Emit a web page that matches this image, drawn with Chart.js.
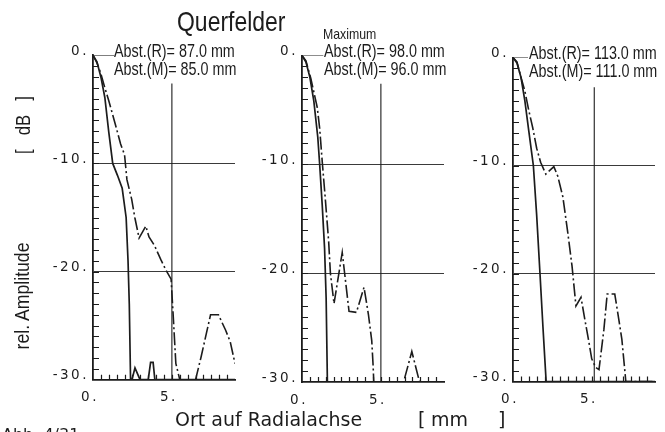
<!DOCTYPE html>
<html><head><meta charset="utf-8">
<script src="https://cdn.jsdelivr.net/npm/chart.js@4.4.1/dist/chart.umd.min.js"></script>
<style>
html,body{margin:0;padding:0;background:#fff;}
body{width:665px;height:432px;position:relative;overflow:hidden;}
canvas{position:absolute;top:0;}
.t{position:absolute;white-space:pre;color:#1c1c1c;line-height:1;}
.nar{font-family:"Liberation Sans",Arial,sans-serif;transform:scaleX(0.82);transform-origin:0 0;}
.rnd{font-family:"DejaVu Sans",sans-serif;}
.rot{position:absolute;white-space:pre;color:#1c1c1c;text-align:center;transform:rotate(-90deg) scaleX(0.84);font-family:"Liberation Sans",sans-serif;}
</style></head><body>
<canvas id="c1" width="212" height="432" style="left:33px;width:212px;height:432px"></canvas>
<canvas id="c2" width="212" height="432" style="left:242px;width:212px;height:432px"></canvas>
<canvas id="c3" width="212" height="432" style="left:453px;width:212px;height:432px"></canvas>

<div class="t nar" style="left:177px;top:8px;font-size:28px">Querfelder</div>
<div class="t nar" style="left:323px;top:26px;font-size:15px">Maximum</div>
<div class="t nar" id="a1r" style="left:114px;top:43px;font-size:17.5px"></div>
<div class="t nar" id="a1m" style="left:114px;top:61px;font-size:17.5px"></div>
<div class="t nar" id="a2r" style="left:324px;top:43px;font-size:17.5px"></div>
<div class="t nar" id="a2m" style="left:324px;top:61px;font-size:17.5px"></div>
<div class="t nar" id="a3r" style="left:529px;top:45px;font-size:17.5px"></div>
<div class="t nar" id="a3m" style="left:529px;top:63px;font-size:17.5px"></div>

<div class="rot" style="left:-38px;top:287px;width:120px;height:24px;line-height:24px;font-size:21px">rel. Amplitude</div>
<div class="rot" style="left:-12px;top:114px;width:70px;height:22px;line-height:22px;font-size:20px">[   dB   ]</div>

<div class="t rnd" style="left:175px;top:410px;font-size:19px">Ort auf Radialachse</div>
<div class="t rnd" style="left:418px;top:410px;font-size:19px">[</div>
<div class="t rnd" style="left:431px;top:410px;font-size:19px">mm</div>
<div class="t rnd" style="left:498px;top:410px;font-size:19px">]</div>
<div class="t rnd" style="left:2px;top:427px;font-size:16px">Abb. 4/31</div>

<script>
// ---- data ----
const abstR = ['87.0', '98.0', '113.0'];
const abstM = ['85.0', '96.0', '111.0'];
const xTickLabels = {'0': '0.', '5': '5.'};
const yTickLabels = {'0': '0.', '-10': '-10.', '-20': '-20.', '-30': '-30.'};

const solid1X = [0, 0.25, 0.5, 0.75, 1.0, 1.25, 1.55, 1.85, 2.1, 2.22, 2.3, 2.38, 2.47, 2.66, 2.98, 3.5, 3.65, 3.81, 3.92, 9.0];
const solid1Y = [0, -0.6, -2.0, -3.9, -7.1, -10.0, -11.1, -12.3, -15.0, -19.0, -23.0, -30, -30, -28.9, -30, -30, -28.4, -28.4, -30, -30];
const dash1X = [0, 0.25, 0.5, 0.75, 1.0, 1.4, 1.75, 2.0, 2.15, 2.45, 2.65, 2.92, 3.35, 3.55, 3.9, 4.3, 4.6, 4.95, 5.1, 5.25, 5.5, 6.5, 6.85, 7.45, 7.95, 8.4, 8.7, 9.0];
const dash1Y = [0, -0.7, -1.7, -3.0, -4.2, -6.3, -8.2, -9.2, -11.5, -13.3, -15.0, -16.9, -15.8, -16.8, -17.6, -18.9, -19.8, -20.7, -24.5, -28.5, -30, -30, -27.9, -24.0, -24.0, -25.4, -26.5, -28.5];

const solid2X = [0, 0.25, 0.5, 0.75, 1.0, 1.12, 1.28, 1.43, 1.53, 1.61, 9.0];
const solid2Y = [0, -0.6, -2.0, -4.2, -7.5, -10.0, -13.7, -17.7, -22.3, -30, -30];
const dash2X = [0, 0.25, 0.56, 0.97, 1.12, 1.28, 1.49, 1.69, 1.8, 2.03, 2.55, 2.98, 3.45, 3.93, 4.21, 4.42, 4.5, 4.55, 6.44, 6.96, 7.45, 9.0];
const dash2Y = [0, -0.5, -2.1, -4.8, -6.7, -9.7, -13.4, -17.1, -20.0, -22.8, -18.1, -23.5, -23.6, -21.3, -23.8, -26.2, -28.3, -30, -30, -27.2, -30, -30];

const solid3X = [0, 0.25, 0.5, 0.75, 1.0, 1.29, 1.5, 1.71, 1.9, 2.1, 9.0];
const solid3Y = [0, -0.5, -1.8, -4.0, -6.8, -10.0, -14.6, -20.0, -25.0, -30, -30];
const dash3X = [0, 0.25, 0.5, 0.75, 1.0, 1.25, 1.5, 1.75, 2.08, 2.59, 2.84, 3.16, 3.47, 3.74, 3.99, 4.31, 4.51, 4.78, 4.99, 5.24, 5.45, 5.76, 5.97, 6.45, 6.7, 6.9, 7.1, 7.15, 9.0];
const dash3Y = [0, -0.4, -1.8, -3.1, -4.9, -6.5, -8.4, -9.7, -10.8, -10.1, -11.0, -12.9, -16.2, -19.3, -23.0, -22.2, -23.9, -26.1, -27.9, -28.7, -28.9, -25.2, -21.9, -21.9, -24.2, -26.1, -29.2, -30, -30];

const markerX = [5.0, 5.0, 5.15];
const markerTop = [-2.6, -2.6, -2.75];
const leaderEnd = [1.35, 1.35, 0.95];

// minor tick spacing of the axes (axis units)
const yMinorStep = 1;
const xMinorStep = 0.5;

// ---- layout (page geometry of each panel's plot area) ----
const panelTop = [55.3, 55.5, 57.5];
const panelBottom = [379.7, 382, 381.5];
const Y_AXIS_W = 60, RIGHT_PAD = 8, CANVAS_H = 432;
const INK = '#1c1c1c';

for (let i = 0; i < 3; i++) {
  document.getElementById('a' + (i + 1) + 'r').textContent = 'Abst.(R)= ' + abstR[i] + ' mm';
  document.getElementById('a' + (i + 1) + 'm').textContent = 'Abst.(M)= ' + abstM[i] + ' mm';
}

const zip = (xs, ys) => xs.map((x, k) => ({x: x, y: ys[k]}));

const innerTicks = {
  id: 'innerTicks',
  beforeDraw(chart) { chart.ctx.letterSpacing = '2.5px'; },
  afterDatasetsDraw(chart) {
    const ctx = chart.ctx, a = chart.chartArea;
    const xs = chart.scales.x, ys = chart.scales.y;
    ctx.save();
    ctx.setLineDash([]);
    ctx.strokeStyle = INK; ctx.lineWidth = 1.2;
    ctx.beginPath();
    for (let v = ys.min + yMinorStep; v < ys.max - 1e-9; v += yMinorStep) {
      const py = Math.round(ys.getPixelForValue(v)) + 0.5;
      ctx.moveTo(a.left, py); ctx.lineTo(a.left + 6, py);
    }
    for (let v = xs.min + xMinorStep; v < xs.max - 1e-9; v += xMinorStep) {
      const px = Math.round(xs.getPixelForValue(v)) + 0.5;
      ctx.moveTo(px, a.bottom); ctx.lineTo(px, a.bottom - 5);
    }
    ctx.stroke();
    ctx.restore();
  }
};

const sets = [[solid1X, solid1Y, dash1X, dash1Y], [solid2X, solid2Y, dash2X, dash2Y], [solid3X, solid3Y, dash3X, dash3Y]];
const tickFont = {family: 'DejaVu Sans', size: 13.5};

sets.forEach((s, i) => {
  const top = panelTop[i], bottom = panelBottom[i];
  new Chart(document.getElementById('c' + (i + 1)), {
    type: 'line',
    data: {
      datasets: [
        {data: zip(s[0], s[1]), borderColor: INK, borderWidth: 1.7, pointRadius: 0, tension: 0},
        {data: zip(s[2], s[3]), borderColor: INK, borderWidth: 1.6, borderDash: [13, 3, 2, 3], pointRadius: 0, tension: 0},
        {data: [{x: markerX[i], y: markerTop[i]}, {x: markerX[i], y: -30}], borderColor: INK, borderWidth: 1.1, pointRadius: 0},
        {data: [{x: 0, y: 0}, {x: leaderEnd[i], y: 0}], borderColor: INK, borderWidth: 1.1, pointRadius: 0}
      ]
    },
    options: {
      responsive: false, devicePixelRatio: 1, animation: false, events: [],
      layout: {padding: {top: top, right: RIGHT_PAD, bottom: 0, left: 0}},
      plugins: {legend: {display: false}, tooltip: {enabled: false}},
      scales: {
        x: {
          type: 'linear', min: 0, max: 9,
          afterFit(sc) { sc.height = CANVAS_H - bottom; },
          ticks: {stepSize: 0.5, autoSkip: false, maxTicksLimit: 100, maxRotation: 0, padding: 10, labelOffset: -3,
                  color: INK, font: tickFont, callback: v => xTickLabels[String(v)] ?? ''},
          grid: {drawTicks: false, color: 'rgba(0,0,0,0)'},
          border: {display: true, color: INK, width: 1.8}
        },
        y: {
          type: 'linear', min: -30, max: 0,
          afterFit(sc) { sc.width = Y_AXIS_W; },
          ticks: {stepSize: 1, autoSkip: false, maxTicksLimit: 100, padding: 4, labelOffset: -4,
                  color: INK, font: tickFont, callback: v => yTickLabels[String(v)] ?? ''},
          grid: {drawTicks: false, lineWidth: 1,
                 color: c => (c.tick && (c.tick.value === -10 || c.tick.value === -20)) ? '#3a3a3a' : 'rgba(0,0,0,0)'},
          border: {display: true, color: INK, width: 1.8}
        }
      }
    },
    plugins: [innerTicks]
  });
});
</script>
</body></html>
